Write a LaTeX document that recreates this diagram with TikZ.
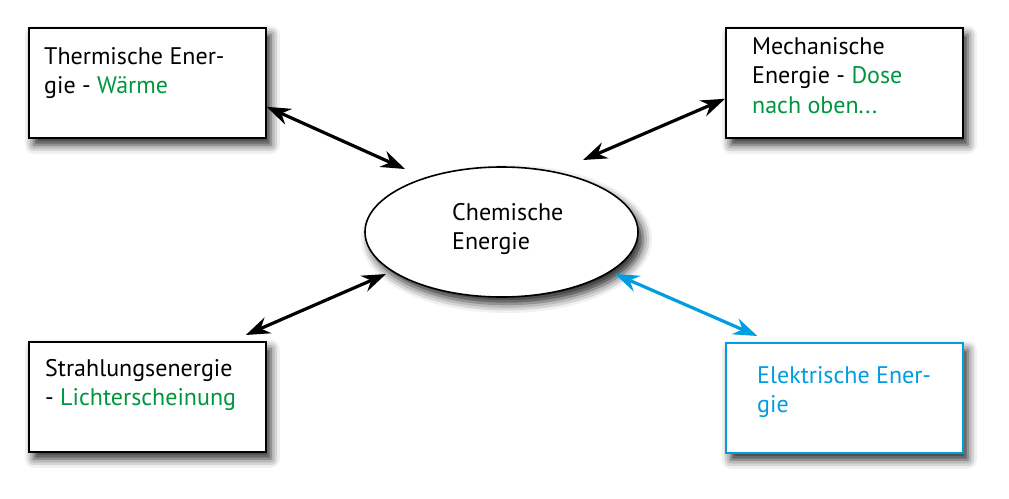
\documentclass[tikz,border=0pt]{standalone}
\usepackage{fontspec}
\setmainfont{PT Sans}
\usetikzlibrary{arrows.meta,shadows.blur,shapes.geometric}
\definecolor{grn}{RGB}{0,150,64}
\definecolor{blu}{RGB}{0,158,224}
\begin{document}
\begin{tikzpicture}[x=1pt,y=-1pt,
  shad/.style={blur shadow={shadow xshift=5pt, shadow yshift=-7pt, shadow blur radius=9pt, shadow opacity=85}},
  box/.style={draw=black, line width=1.6pt, fill=white, minimum width=237pt, minimum height=110pt, anchor=north west, inner sep=0pt, shad},
  txt/.style={font=\fontsize{24}{29.5}\selectfont, align=left, anchor=north west, inner sep=0pt},
  arr/.style={line width=3.2pt, {Stealth[length=24pt,width=17pt]}-{Stealth[length=24pt,width=17pt]}}]
\useasboundingbox (0,0) rectangle (1009,498);
\node[box] (th) at (28,27) {};
\node[box] (me) at (725,27) {};
\node[box] (st) at (28,341) {};
\node[box, draw=blu] (el) at (725,342) {};
\node[ellipse, draw=black, line width=1.6pt, fill=white, minimum width=273pt, minimum height=130pt, inner sep=0pt, shad] (ce) at (501.5,232) {};
\node[txt] (thT) at (44,47) {Thermische Ener-\\gie - \textcolor{grn}{Wärme}};
\node[txt] (meT) at (752,37) {Mechanische\\Energie - \textcolor{grn}{Dose}\\\textcolor{grn}{nach oben...}};
\node[txt] (stT) at (45,359) {Strahlungsenergie\\- \textcolor{grn}{Lichterscheinung}};
\node[txt, text=blu] (elT) at (757,366) {Elektrische Ener-\\gie};
\node[txt] (ceT) at (452,203) {Chemische\\Energie};
\coordinate (c1) at (405,169);
\coordinate (c2) at (583,160);
\coordinate (c3) at (386,274);
\coordinate (c4) at (615,274);
\draw[arr] ([yshift=-24pt]th.east) -- (c1);
\draw[arr] ([yshift=-16pt]me.west) -- (c2);
\draw[arr] ([xshift=98.5pt,yshift=6pt]st.north) -- (c3);
\draw[arr, draw=blu, fill=blu] ([xshift=-87pt,yshift=6pt]el.north) -- (c4);
\end{tikzpicture}
\end{document}
